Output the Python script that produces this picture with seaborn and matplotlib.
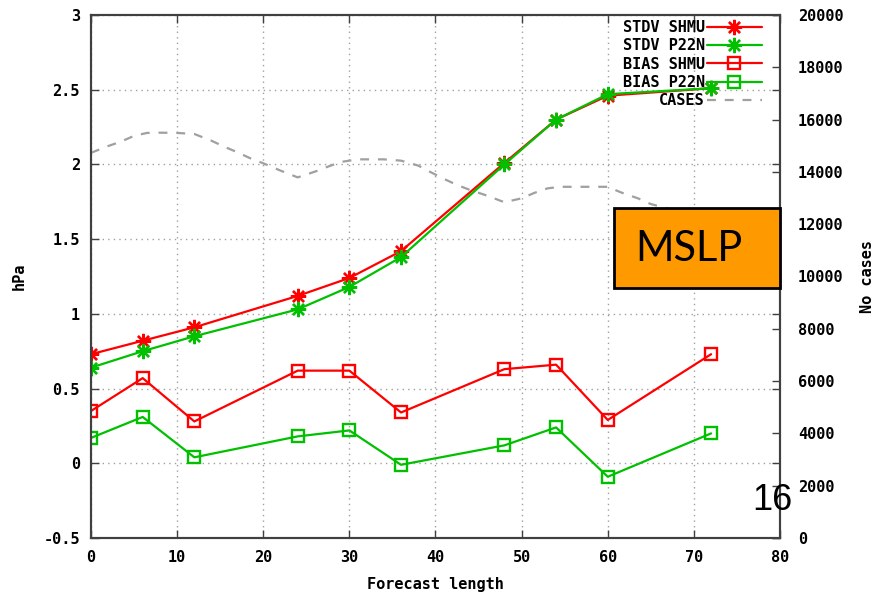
import matplotlib
matplotlib.use("Agg")
import matplotlib.pyplot as plt
from matplotlib.patches import Rectangle
from matplotlib.ticker import FuncFormatter, MultipleLocator
import seaborn as sns

# Forecast lead times (hours)
lead = [0, 6, 12, 24, 30, 36, 48, 54, 60, 72]

# Standard deviation of MSLP error (hPa)
stdv_shmu = [0.73, 0.82, 0.91, 1.12, 1.24, 1.42, 2.01, 2.30, 2.46, 2.51]
stdv_p22n = [0.64, 0.75, 0.85, 1.03, 1.18, 1.38, 2.00, 2.30, 2.47, 2.51]

# Bias of MSLP (hPa)
bias_shmu = [0.35, 0.57, 0.28, 0.62, 0.62, 0.34, 0.63, 0.66, 0.29, 0.73]
bias_p22n = [0.17, 0.31, 0.04, 0.18, 0.22, -0.01, 0.12, 0.24, -0.09, 0.20]

# Number of verified cases along the forecast range
cases_lead = [0, 2, 3.5, 5, 6.5, 8, 10, 12, 14, 15.5, 17, 18.5, 20, 22, 24, 26,
              27.5, 29, 31, 34, 36, 38, 39.5, 41, 42.5, 44, 46, 48, 50, 51.5,
              53, 54.5, 57.5, 60, 61.5, 63.5, 65, 67, 69, 72]
cases = [14730, 14990, 15160, 15380, 15490, 15500, 15490, 15450, 15190, 14960,
         14750, 14520, 14330, 14050, 13790, 14010, 14200, 14380, 14480, 14480,
         14430, 14240, 13980, 13730, 13500, 13310, 13090, 12840, 12990, 13200,
         13370, 13430, 13430, 13430, 13220, 12990, 12770, 12600, 12450, 12300]

sns.set_style("ticks")
plt.rcParams["font.family"] = ["DejaVu Sans Mono"]
plt.rcParams["font.weight"] = "bold"
plt.rcParams["axes.unicode_minus"] = False
plt.rcParams["text.color"] = "black"
plt.rcParams["axes.labelcolor"] = "black"
plt.rcParams["xtick.labelcolor"] = "black"
plt.rcParams["ytick.labelcolor"] = "black"

RED = "#ff0000"
GREEN = "#00c000"
GREY = "#a0a0a0"
AXC = "#404040"

fig = plt.figure(figsize=(8.9, 5.94), dpi=100)
ax = fig.add_axes([91 / 890, 1 - 538 / 594, (780 - 91) / 890, (538 - 15) / 594])
ax2 = ax.twinx()

asterisk = (8, 2, 0)


def draw(y, color, marker, label, size):
    sns.lineplot(x=lead, y=y, ax=ax, color=color, marker=marker,
                 markerfacecolor="none", markeredgecolor=color,
                 markersize=size, markeredgewidth=1.7, linewidth=1.6,
                 label=label)


draw(stdv_shmu, RED, asterisk, "STDV SHMU", 11)
draw(stdv_p22n, GREEN, asterisk, "STDV P22N", 11)
draw(bias_shmu, RED, "s", "BIAS SHMU", 8)
draw(bias_p22n, GREEN, "s", "BIAS P22N", 8)
sns.lineplot(x=cases_lead, y=cases, ax=ax2, color=GREY, linewidth=1.6,
             dashes=False, linestyle=(0, (4, 4)), label="CASES")

for a in (ax, ax2):
    leg = a.get_legend()
    if leg is not None:
        leg.remove()

ax.set_xlim(0, 80)
ax.set_ylim(-0.5, 3)
ax2.set_ylim(0, 20000)
ax.xaxis.set_major_locator(MultipleLocator(10))
ax.yaxis.set_major_locator(MultipleLocator(0.5))
ax2.yaxis.set_major_locator(MultipleLocator(2000))
fmt = FuncFormatter(lambda v, p: f"{v:g}")
ax.yaxis.set_major_formatter(fmt)
ax.xaxis.set_major_formatter(fmt)
ax2.yaxis.set_major_formatter(fmt)

ax.grid(True, color=GREY, linestyle=(0, (1, 3)), linewidth=1.0)
ax.set_axisbelow(True)

ax.tick_params(axis="both", direction="in", length=6, width=1, color=AXC,
               labelsize=11, labelcolor="black", top=True, right=True,
               labelright=False)
ax.tick_params(axis="y", pad=8)
ax.tick_params(axis="x", pad=9)
ax2.tick_params(axis="y", direction="in", length=6, width=1, color=AXC,
                labelsize=11, labelcolor="black", pad=13)
for a in (ax, ax2):
    for s in a.spines.values():
        s.set_color(AXC)
        s.set_linewidth(1.5)

ax.set_xlabel("Forecast length", fontsize=11, fontweight="bold", labelpad=8,
              color="black")
ax.set_ylabel("hPa", fontsize=11, fontweight="bold", labelpad=12,
              color="black")
ax2.set_ylabel("No cases", fontsize=11, fontweight="bold", labelpad=12,
               color="black")

h1 = [l for l in ax.get_lines() if not l.get_label().startswith("_")]
h2 = [l for l in ax2.get_lines() if not l.get_label().startswith("_")]
hs = h1 + h2
ax2.legend(hs, [h.get_label() for h in hs], loc="upper right",
           bbox_to_anchor=(762 / 890, 1 - 20 / 594),
           bbox_transform=fig.transFigure, frameon=False, markerfirst=False,
           fontsize=11, handlelength=3.6, handletextpad=0.15,
           labelspacing=0.22, borderpad=0, borderaxespad=0,
           labelcolor="black")

# Variable tag box
fig.add_artist(Rectangle((614 / 890, 1 - 288 / 594), (780 - 614) / 890,
                         (288 - 208) / 594, transform=fig.transFigure,
                         facecolor="#ff9900", edgecolor="black",
                         linewidth=2, zorder=10))
fig.text(689 / 890, 1 - 249 / 594, "MSLP", family="Lato", fontweight="normal",
         fontsize=30, ha="center", va="center", color="black", zorder=11)

# Slide number
fig.text(772 / 890, 1 - 500 / 594, "16", family="Liberation Sans",
         fontweight="normal", fontsize=26, ha="center", va="center",
         color="black", zorder=11)

fig.savefig("out.png", dpi=100)
